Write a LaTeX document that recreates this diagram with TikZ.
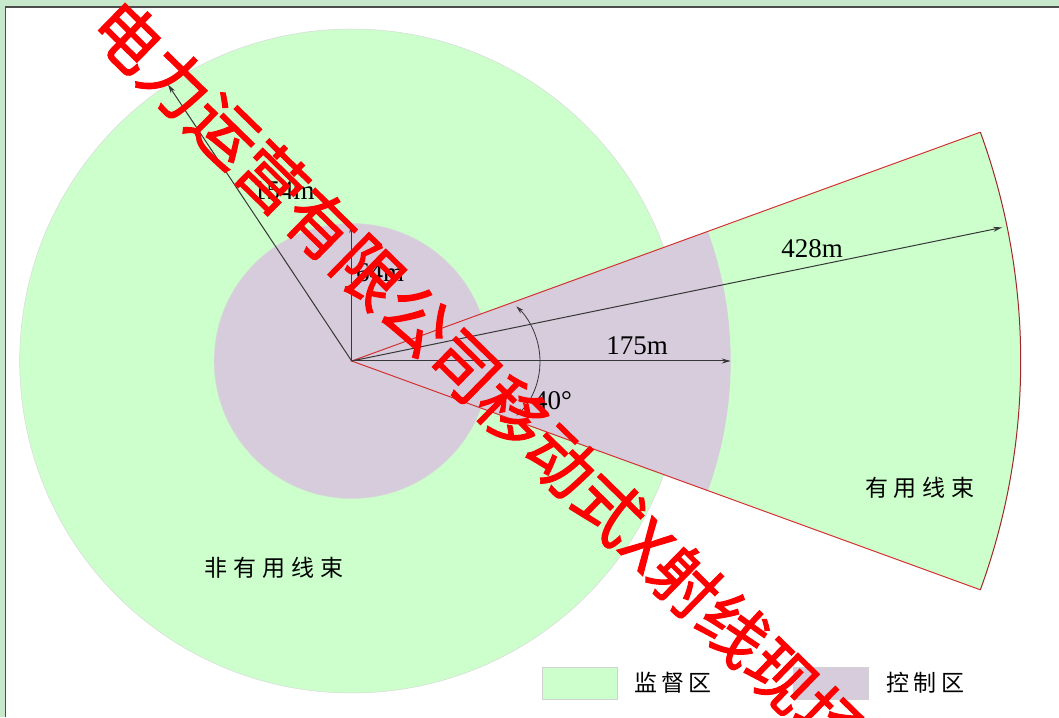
\documentclass[tikz,border=0pt]{standalone}
\usepackage{fontspec}
\setmainfont{Liberation Serif}
\newfontfamily\cjk{Noto Sans CJK SC}
\newfontfamily\cjkwm{Noto Sans CJK SC}[FakeBold=1.6]
\usetikzlibrary{arrows.meta}
\definecolor{jgreen}{RGB}{204,255,204}
\definecolor{jpurple}{RGB}{214,204,219}
\definecolor{framegreen}{RGB}{200,232,204}
\definecolor{redline}{RGB}{210,50,50}
\definecolor{arcred}{RGB}{160,40,40}
\definecolor{dimgray}{RGB}{55,55,55}
\begin{document}
\begin{tikzpicture}[x=1pt,y=1pt,
  dim/.style={draw=dimgray, line width=1pt, -{Stealth[length=9pt,width=5pt]}},
  dimboth/.style={draw=dimgray, line width=0.8pt, {Stealth[length=8pt,width=4.5pt]}-{Stealth[length=8pt,width=4.5pt]}},
  numlbl/.style={font=\fontsize{27}{30}\selectfont, text=black, inner sep=0pt},
  cjklbl/.style={font=\cjk\fontsize{23}{26}\selectfont, text=black, inner sep=0pt},
  zone/.style={draw=gray!30, line width=0.5pt},
  legbox/.style={draw=gray!35, line width=0.6pt, minimum width=75pt, minimum height=32pt, inner sep=0pt},
  wmark/.style={font=\cjkwm\fontsize{67.4}{70}\selectfont, text=red, inner sep=0pt}
]
\useasboundingbox (-351.7,-356) rectangle (707.3,361);
\fill[framegreen] (-351.7,-356) rectangle (707.3,361);
\fill[white] (-346,-356) rectangle (707.3,354);
\draw[gray!60!black, line width=1.5pt] (-346,-356) -- (-346,354) -- (707.3,354);

\coordinate (C) at (0,0);
\coordinate (U) at (20:669pt);
\coordinate (L) at (-20:669pt);
\coordinate (PU) at (20:379pt);

% zones
\path[fill=jgreen, zone] (C) circle[radius=332pt];
\path[fill=jgreen] (C) -- (U) arc[start angle=20, end angle=-20, radius=669pt] -- cycle;
\path[fill=jpurple, zone] (C) circle[radius=137.5pt];
\path[fill=jpurple] (C) -- (PU) arc[start angle=20, end angle=-20, radius=379pt] -- cycle;

% beam outline
\draw[redline, line width=1pt] (U) -- (C) -- (L);
\draw[arcred, line width=1pt] (U) arc[start angle=20, end angle=-20, radius=669pt];

% dimension arrows
\coordinate (t154) at (123.6:332pt);
\coordinate (t64) at (90:137pt);
\coordinate (t175) at (0:379pt);
\coordinate (t428) at (11.6:664pt);
\draw[dim] (C) -- (t154);
\draw[dim] (C) -- (t64);
\draw[dim] (C) -- (t175);
\draw[dim] (C) -- (t428);
\coordinate (angB) at (164.6,-54.7);
\draw[dimboth] (angB) arc[start angle=-46.8, end angle=46.8, radius=75pt];

% labels
\node[numlbl] (l154) at (-67.7,170) {154m};
\node[numlbl] (l64) at (28.3,88) {64m};
\node[numlbl] (l175) at (285.3,15) {175m};
\node[numlbl] (l428) at (460.3,112) {428m};
\node[numlbl] (l40) at (201.3,-40) {40°};
\node[cjklbl] (nonuse) at (-77.7,-207) {非\kern6pt有\kern6pt用\kern6pt线\kern6pt束};
\node[cjklbl] (use) at (568.3,-127) {有\kern6pt用\kern6pt线\kern6pt束};

% legend
\node[legbox, fill=jgreen] (lg1) at (227.8,-322) {};
\node[cjklbl] (lg1t) at (321.3,-322) {监\kern4.5pt督\kern4.5pt区};
\node[legbox, fill=jpurple] (lg2) at (478.8,-322) {};
\node[cjklbl] (lg2t) at (573.3,-322) {控\kern4.5pt制\kern4.5pt区};

% watermark
\begin{scope}
\clip (-351.7,-356) rectangle (707.3,361);
\node[wmark, rotate=-44.4, anchor=west] (wm) at (-247.8,348.6) {电力运营有限公司移动式X射线现场};
\end{scope}
\end{tikzpicture}
\end{document}
